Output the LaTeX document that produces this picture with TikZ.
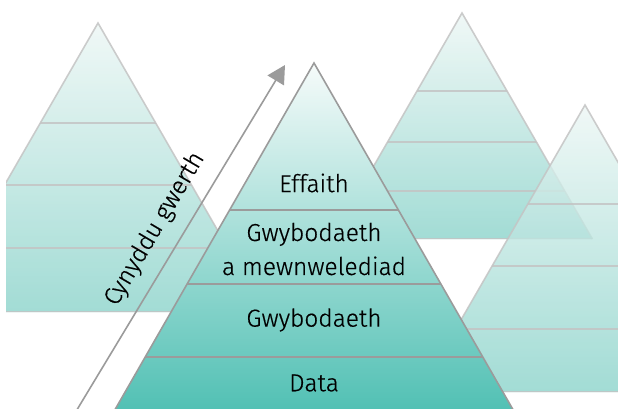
\documentclass[tikz,border=0pt]{standalone}
\usepackage{fontspec}
\setmainfont{Fira Sans}[UprightFont=* Light, UprightFeatures={FakeBold=0.5}]
\usetikzlibrary{arrows.meta,calc}
\definecolor{tealtop}{RGB}{246,251,250}
\definecolor{tealbot}{RGB}{72,189,176}
\definecolor{backtop}{RGB}{236,246,244}
\definecolor{backbot}{RGB}{136,210,201}
\definecolor{mainline}{RGB}{155,155,155}
\definecolor{backline}{RGB}{196,196,196}
\tikzset{
  backpyr/.style={top color=backtop, bottom color=backbot, fill opacity=0.78, draw=none},
  backedge/.style={draw=backline, line width=1.6pt, line join=miter},
  mainpyr/.style={top color=tealtop, bottom color=tealbot, draw=none},
  mainedge/.style={draw=mainline, line width=1.6pt},
  lbl/.style={font=\fontsize{24.5}{34}\selectfont, text=black, align=center},
  valarrow/.style={draw=mainline, line width=1.6pt, -{Triangle[length=18pt,width=19pt]}}
}
\newcommand{\backpyramid}[5]{%
  % #1 name, #2 apex x, #3 apex y, #4 base y, #5 list of band y
  \coordinate (#1A) at (#2,#3);
  \pgfmathsetmacro{\hw}{(#4-#3)*0.577}
  \coordinate (#1L) at ({#2-\hw},#4);
  \coordinate (#1R) at ({#2+\hw},#4);
  \begin{scope}
    \clip (6,0) rectangle (618,408);
    \path[backpyr] (#1A) -- (#1L) -- (#1R) -- cycle;
    \begin{scope}
      \clip (#1A) -- (#1L) -- (#1R) -- cycle;
      \foreach \yy in {#5} {\draw[draw=backline, line width=2pt, opacity=0.85] (0,\yy) -- (618,\yy);}
      \draw[draw=backline, line width=3pt, opacity=0.85] (0,#4) -- (618,#4);
    \end{scope}
    \draw[backedge, opacity=0.85] (#1L) -- (#1A) -- (#1R);
  \end{scope}
}
\begin{document}
\begin{tikzpicture}[x=1pt,y=-1pt]
\useasboundingbox (0,0) rectangle (618,408);
\clip (0,0) rectangle (618,408);
% background pyramids
\backpyramid{bl}{98}{23}{312}{123,185,248}
\backpyramid{bm}{462}{13}{239}{91,142,191}
\backpyramid{br}{585}{105}{392}{204,266,329}
% main pyramid
\coordinate (mA) at (314,63);
\coordinate (mL) at (103.3,430);
\coordinate (mR) at (524.7,430);
\path[mainpyr] (mA) -- (mL) -- (mR) -- cycle;
\begin{scope}
  \clip (mA) -- (mL) -- (mR) -- cycle;
  \foreach \yy in {210,284,357} {\draw[draw=mainline, line width=1.6pt] (0,\yy) -- (618,\yy);}
\end{scope}
\draw[mainedge] (mL) -- (mA) -- (mR);
% labels
\node[lbl] (effaith) at (314,183) {Effaith};
\node[lbl] (mewn) at (314,249) {Gwybodaeth\\a mewnwelediad};
\node[lbl] (gwyb) at (314,320) {Gwybodaeth};
\node[lbl] (data) at (314,383) {Data};
% value arrow
\coordinate (arS) at (72,418);
\coordinate (arE) at (285,65);
\draw[valarrow] (arS) -- (arE);
\node[lbl, rotate=59.5] (gwerth) at (155,229) {Cynyddu gwerth};
\end{tikzpicture}
\end{document}
